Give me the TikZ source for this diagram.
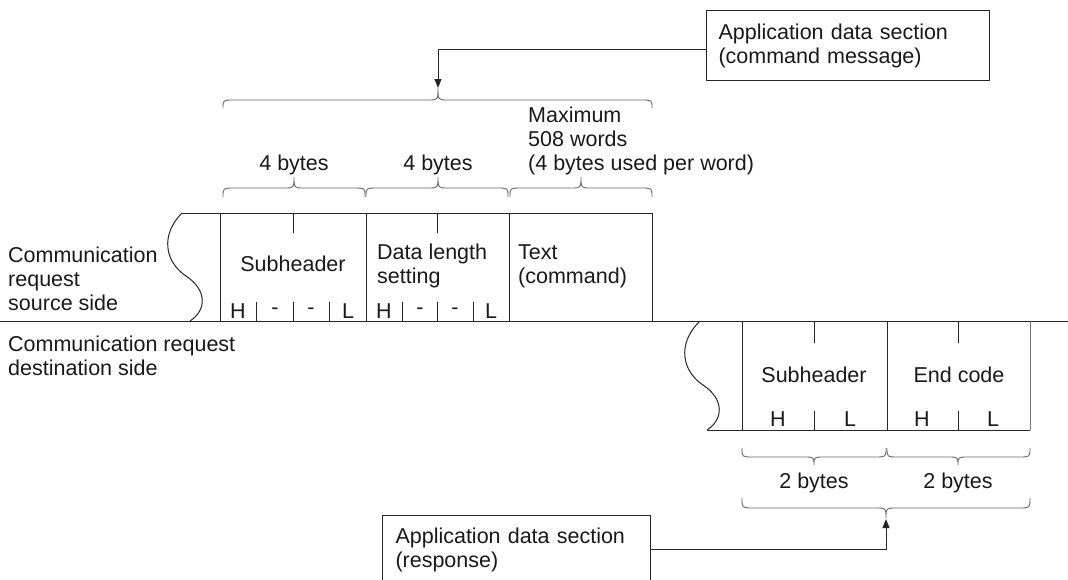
\documentclass[tikz,border=0pt]{standalone}
\usepackage{fontspec}
\setmainfont{Liberation Sans}
\usetikzlibrary{arrows.meta}
\newcommand{\cbrace}[6]{% x1, xm, x2, yend, yhoriz, ytip
  \draw[br] (#1,#4) .. controls (#1,#5) .. ({#1+11},#5) -- ({#2-10},#5)
    .. controls (#2,#5) .. (#2,#6) .. controls (#2,#5) .. ({#2+10},#5)
    -- ({#3-11},#5) .. controls (#3,#5) .. (#3,#4);}
\begin{document}
\begin{tikzpicture}[x=1pt,y=-1pt,
  ln/.style={line width=1pt,draw=black!85},
  br/.style={line width=0.9pt,draw=black!60},
  lbl/.style={inner sep=0pt,font=\fontsize{21.5}{24}\selectfont,text=black!90,align=left},
  box/.style={draw=black!85,line width=1pt,font=\fontsize{21.5}{24}\selectfont,text=black!90,
    align=left,anchor=north west,inner xsep=12pt,inner ysep=0pt},
  arr/.style={line width=1pt,draw=black!85,-{Triangle[length=9pt,width=7pt]}}]
\useasboundingbox (0,0) rectangle (1068,579);
\clip (0,0) rectangle (1068,579);

% top box and arrow
\node[box,text width=259pt,minimum height=70pt] (cmdbox) at (706,10)
  {Application data section\\(command message)};
\coordinate (cmdtip) at (438,88);
\draw[arr] ([yshift=-4pt]cmdbox.west) -| (cmdtip);

% braces over the request
\cbrace{223}{438}{652}{108}{100}{88}
\cbrace{223}{294}{365}{197}{188}{177}
\cbrace{366}{438}{508}{197}{188}{177}
\cbrace{510}{581}{652}{197}{188}{177}

\node[lbl] (b1) at (294,165) {4 bytes};
\node[lbl] (b2) at (438,165) {4 bytes};
\node[lbl,anchor=west] (maxw) at (528,141) {Maximum\\508 words\\(4 bytes used per word)};

% left labels
\node[lbl,anchor=west] (src) at (8,279) {Communication\\request\\source side};
\node[lbl,anchor=west] (dst) at (8,356) {Communication request\\destination side};

% main dividing line
\draw[ln] (0,321) -- (1068,321);

% request frame
\draw[ln] (182,213) -- (652,213);
\draw[ln] (182,213) .. controls (160,235) and (165,262) .. (186,276)
  .. controls (207,290) and (207,310) .. (190,321);
\foreach \x in {220,366,509,652} \draw[ln] (\x,213) -- (\x,321);
\foreach \x in {293,437} \draw[ln] (\x,213) -- (\x,233);
\foreach \x in {256,293,329,402,437,473} \draw[ln] (\x,302) -- (\x,321);

\node[lbl] (sub1) at (293,264) {Subheader};
\node[lbl,anchor=west] (dlen) at (377,266) {Data length\\setting};
\node[lbl,anchor=west] (txt) at (518,266) {Text\\(command)};
\foreach \x/\t [count=\i] in {238/H,275/-,311/-,348/L,384/H,420/-,455/-,491/L}
  \node[lbl] (hl\i) at (\x,311) {\t};

% response frame
\draw[ln] (699,322) .. controls (677,344) and (682,371) .. (703,385)
  .. controls (724,399) and (724,419) .. (707,430);
\draw[ln] (707,430) -- (1030,430);
\foreach \x in {742,887} \draw[ln] (\x,321) -- (\x,430);
\draw[line width=1pt,draw=black!55] (1030,321) -- (1030,430);
\foreach \x in {814,958} {\draw[ln] (\x,321) -- (\x,343); \draw[ln] (\x,411) -- (\x,430);}

\node[lbl] (sub2) at (814,375) {Subheader};
\node[lbl] (endc) at (959,375) {End code};
\foreach \x/\t [count=\i] in {778/H,850/L,922/H,993/L}
  \node[lbl] (rl\i) at (\x,419) {\t};

% braces under the response
\cbrace{742}{814}{886}{448}{457}{465}
\cbrace{887}{958}{1030}{448}{457}{465}
\node[lbl] (b3) at (814,483) {2 bytes};
\node[lbl] (b4) at (958,483) {2 bytes};
\cbrace{742}{886}{1030}{498}{508}{518}

% bottom box and arrow
\node[box,text width=242pt,minimum height=68pt,inner xsep=13pt] (respbox) at (382,515)
  {Application data section\\(response)};
\coordinate (resptip) at (886,519);
\draw[arr] (respbox.east) -| (resptip);
\end{tikzpicture}
\end{document}
